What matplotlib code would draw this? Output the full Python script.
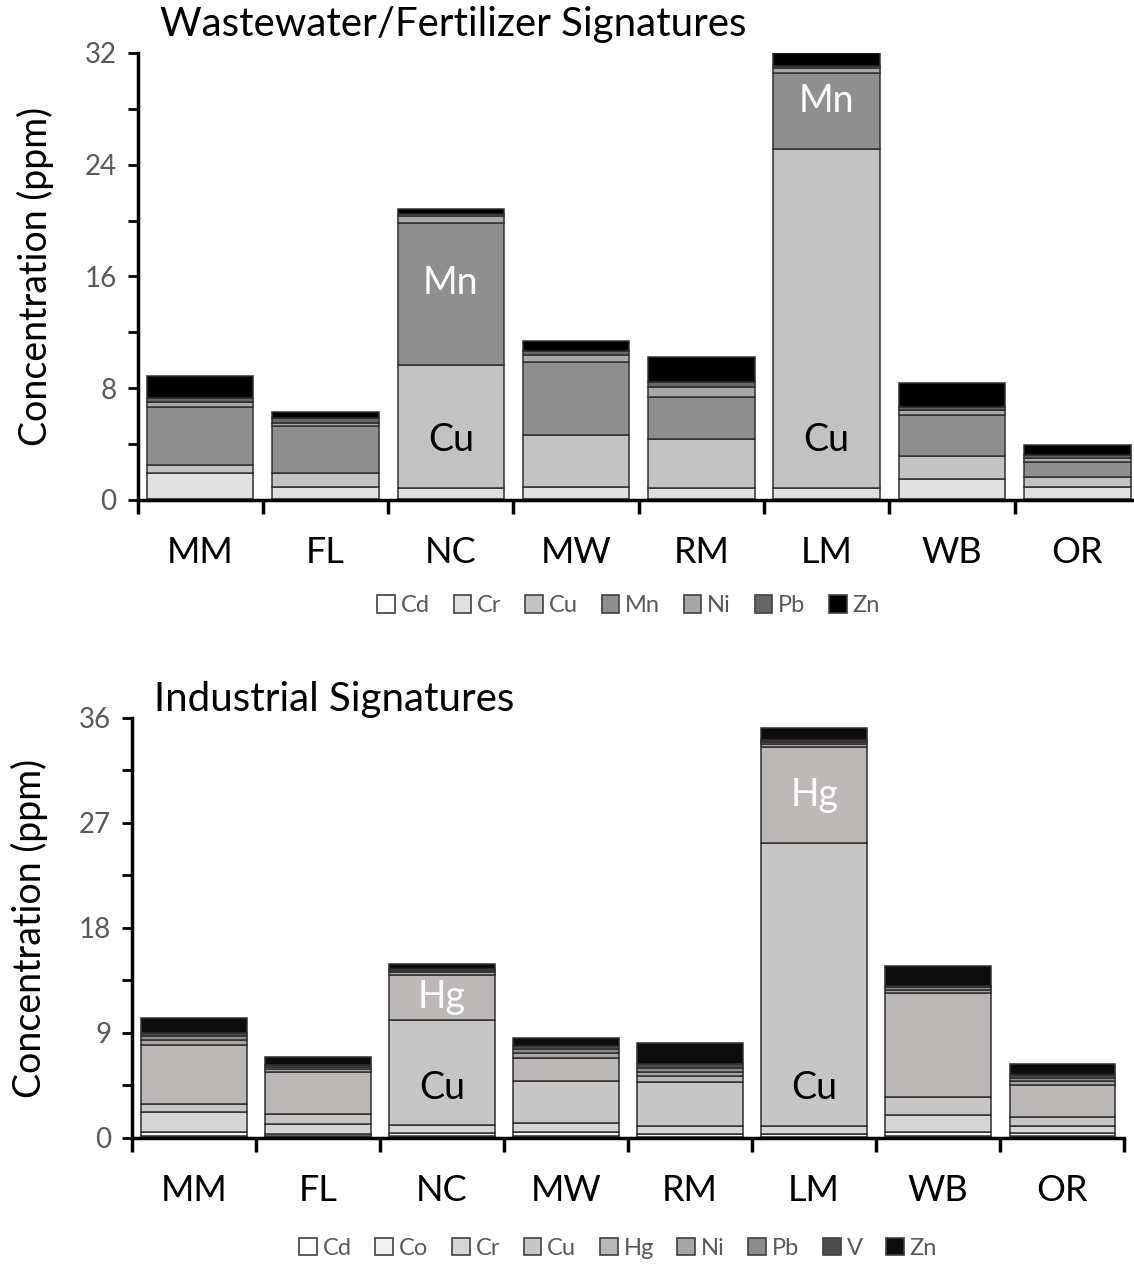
import matplotlib.pyplot as plt
from matplotlib.patches import Patch
import numpy as np

plt.rcParams['font.family'] = ['Lato', 'DejaVu Sans']

sites = ["MM", "FL", "NC", "MW", "RM", "LM", "WB", "OR"]

# wastewater / fertilizer signatures (ppm)
ww_metals = ["Cd", "Cr", "Cu", "Mn", "Ni", "Pb", "Zn"]
ww_colors = ["#ffffff", "#e0e0e0", "#c2c2c2", "#8f8f8f", "#a8a8a8", "#666666", "#000000"]
ww_Cd = [0.1, 0.1, 0.1, 0.1, 0.1, 0.1, 0.1, 0.1]
ww_Cr = [1.8, 0.83, 0.76, 0.83, 0.76, 0.75, 1.4, 0.83]
ww_Cu = [0.57, 1.0, 8.8, 3.72, 3.5, 24.3, 1.65, 0.72]
ww_Mn = [4.15, 3.36, 10.2, 5.23, 3.0, 5.44, 2.93, 1.07]
ww_Ni = [0.36, 0.2, 0.45, 0.5, 0.7, 0.3, 0.35, 0.3]
ww_Pb = [0.3, 0.35, 0.15, 0.3, 0.4, 0.2, 0.22, 0.2]
ww_Zn = [1.57, 0.43, 0.36, 0.7, 1.8, 0.93, 1.7, 0.72]

# industrial signatures (ppm)
ind_metals = ["Cd", "Co", "Cr", "Cu", "Hg", "Ni", "Pb", "V", "Zn"]
ind_colors = ["#ffffff", "#f2f2f2", "#d6d6d6", "#c6c6c6", "#bdb8b8",
              "#a5a5a5", "#8c8c8c", "#4d4d4d", "#0d0d0d"]
ind_Cd = [0.2, 0.15, 0.2, 0.2, 0.1, 0.1, 0.2, 0.15]
ind_Co = [0.3, 0.2, 0.2, 0.3, 0.2, 0.2, 0.3, 0.25]
ind_Cr = [1.7, 0.86, 0.7, 0.77, 0.7, 0.7, 1.45, 0.6]
ind_Cu = [0.7, 0.86, 9.0, 3.6, 3.8, 24.3, 1.6, 0.77]
ind_Hg = [5.06, 3.6, 3.9, 2.0, 0.5, 8.2, 8.9, 2.74]
ind_Ni = [0.4, 0.25, 0.2, 0.4, 0.35, 0.25, 0.25, 0.35]
ind_Pb = [0.35, 0.2, 0.15, 0.35, 0.35, 0.2, 0.2, 0.3]
ind_V = [0.25, 0.15, 0.1, 0.25, 0.3, 0.15, 0.15, 0.2]
ind_Zn = [1.3, 0.7, 0.5, 0.7, 1.85, 1.0, 1.7, 0.94]

TXT_GRAY = "#595959"


def stacked(ax, series, names, colors, ymax, step, minor, title, labels, title_y, leg_y):
    x = np.arange(len(sites))
    bottom = np.zeros(len(sites))
    tops = {}
    for vals, name, col in zip(series, names, colors):
        vals = np.array(vals)
        ax.bar(x, vals, 0.85, bottom=bottom, color=col, edgecolor="#303030", linewidth=1.1)
        tops[name] = (bottom.copy(), bottom + vals)
        bottom = bottom + vals

    # in-bar labels: (site index, metal, colour, nudge)
    for i, name, col, dy in labels:
        lo, hi = tops[name]
        y = 4.3 if name == "Cu" else (lo[i] + hi[i]) / 2 + dy
        ax.text(i, y, name, ha="center", va="center", fontsize=27, color=col)

    ax.set_xlim(-0.5, len(sites) - 0.5)
    ax.set_ylim(0, ymax)
    ax.set_yticks(np.arange(0, ymax + 0.1, step))
    ax.set_yticks(np.arange(0, ymax + 0.1, minor), minor=True)
    ax.tick_params(axis="y", which="both", direction="out", length=7, width=2,
                   labelsize=20, labelcolor=TXT_GRAY, pad=8)
    ax.set_xticks(x)
    ax.set_xticklabels(sites, fontsize=26)
    ax.tick_params(axis="x", which="major", length=0, pad=26)
    ax.set_xticks(np.arange(-0.5, len(sites)), minor=True)
    ax.tick_params(axis="x", which="minor", direction="out", length=10, width=2.5)
    for s in ["top", "right"]:
        ax.spines[s].set_visible(False)
    for s in ["left", "bottom"]:
        ax.spines[s].set_linewidth(2.5)
    ax.set_ylabel("Concentration (ppm)", fontsize=27, labelpad=22)
    ax.text(0.022, title_y, title, transform=ax.transAxes, fontsize=29,
            ha="left", va="center")

    handles = [Patch(facecolor=c, edgecolor="#404040", linewidth=1.2) for c in colors]
    ax.legend(handles, names, loc="center", bbox_to_anchor=(0.49, leg_y), ncol=len(names),
              frameon=False, fontsize=17, labelcolor=TXT_GRAY, handlelength=0.75,
              handleheight=0.75, handletextpad=0.25, columnspacing=1.0)


fig = plt.figure(figsize=(11.34, 12.64), dpi=100)
ax1 = fig.add_axes([0.1213, 0.6045, 0.884, 0.3536])
ax2 = fig.add_axes([0.1164, 0.0997, 0.875, 0.3323])

stacked(ax1, [ww_Cd, ww_Cr, ww_Cu, ww_Mn, ww_Ni, ww_Pb, ww_Zn], ww_metals, ww_colors,
        32, 8, 4, "Wastewater/Fertilizer Signatures",
        [(2, "Mn", "white", 0.8), (2, "Cu", "black", 0), (5, "Mn", "white", 0.7),
         (5, "Cu", "black", 0)], 1.063, -0.237)

stacked(ax2, [ind_Cd, ind_Co, ind_Cr, ind_Cu, ind_Hg, ind_Ni, ind_Pb, ind_V, ind_Zn],
        ind_metals, ind_colors, 36, 9, 4.5, "Industrial Signatures",
        [(2, "Hg", "white", 0), (2, "Cu", "black", 0), (5, "Hg", "white", 0),
         (5, "Cu", "black", 0)], 1.043, -0.262)

fig.savefig("out.png", dpi=100)
